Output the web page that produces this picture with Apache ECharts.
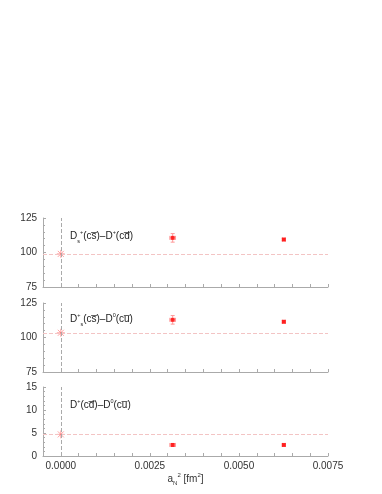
<!DOCTYPE html>
<html><head><meta charset="utf-8">
<script src="https://cdn.jsdelivr.net/npm/echarts@6/dist/echarts.min.js"></script>
<style>html,body{margin:0;padding:0;background:#fff}#c{width:382px;height:494px}</style>
</head><body><div id="c"></div>
<script>
// ---- data ----
const xVals = [0.00314, 0.00626];
const xErr = [0.00008, 0.00004];
const panel1Vals = [110.6, 109.4];
const panel1Err = [3.1, 0.8];
const panel2Vals = [112.8, 111.4];
const panel2Err = [3.1, 0.8];
const panel3Vals = [2.4, 2.4];
const panel3Err = [0.3, 0.2];
const extrapX = 0;
const extrapVals = [99.0, 103.4, 4.7];
const yMins = [75, 75, 0];
const yMaxs = [125, 125, 15];
const yIntervals = [25, 25, 5];
const xTickLabels = ['0.0000', '0.0025', '0.0050', '0.0075'];

const panelVals = [panel1Vals, panel2Vals, panel3Vals];
const panelErr = [panel1Err, panel2Err, panel3Err];

const font = 'Liberation Sans, Arial, sans-serif';
const axisColor = '#aaa';
const tops = [218, 303, 387];
const grids = tops.map(t => ({left: 43, width: 285, top: t, height: 69}));

const xAxes = tops.map((t, i) => ({
  type: 'value', gridIndex: i, min: -0.0005, max: 0.0075, interval: 0.0005,
  axisLine: {onZero: false, lineStyle: {color: axisColor}},
  axisTick: {inside: true, length: 3, lineStyle: {color: axisColor}},
  splitLine: {show: false},
  axisLabel: {
    show: i === 2, color: '#333', fontSize: 10, fontFamily: font, margin: 5,
    formatter: v => {
      const s = v.toFixed(4);
      return xTickLabels.indexOf(s) >= 0 ? s : '';
    }
  },
  name: i === 2 ? 'a{sub|N}{sup|2} [fm{sup|2}]' : '',
  nameLocation: 'middle', nameGap: 16,
  nameTextStyle: {
    color: '#333', fontSize: 10, fontFamily: font, lineHeight: 14,
    rich: {
      sub: {fontSize: 6, verticalAlign: 'bottom', fontFamily: font, color: '#333', lineHeight: 14},
      sup: {fontSize: 6, verticalAlign: 'top', fontFamily: font, color: '#333', lineHeight: 14}
    }
  }
}));

const yAxes = tops.map((t, i) => ({
  type: 'value', gridIndex: i, min: yMins[i], max: yMaxs[i], interval: yIntervals[i],
  axisLine: {show: true, onZero: false, lineStyle: {color: axisColor}},
  axisTick: {inside: true, length: 3, lineStyle: {color: axisColor}},
  minorTick: {show: true, splitNumber: 5, length: 2, lineStyle: {color: axisColor}},
  splitLine: {show: false},
  axisLabel: {color: '#333', fontSize: 10, fontFamily: font, margin: 6}
}));

const series = [];
for (let i = 0; i < 3; i++) {
  const pts = xVals.map((x, k) => [x, panelVals[i][k], xErr[k], panelErr[i][k]]);
  series.push({
    type: 'custom', xAxisIndex: i, yAxisIndex: i, silent: true, z: 2,
    data: pts,
    renderItem: (params, api) => {
      const x = api.value(0), y = api.value(1), ex = api.value(2), ey = api.value(3);
      const l = api.coord([x - ex, y]), r = api.coord([x + ex, y]);
      const b = api.coord([x, y - ey]), tp = api.coord([x, y + ey]);
      const st = {stroke: '#f99', lineWidth: 1};
      const cap = 2;
      return {type: 'group', children: [
        {type: 'line', shape: {x1: l[0], y1: l[1], x2: r[0], y2: r[1]}, style: st},
        {type: 'line', shape: {x1: b[0], y1: b[1], x2: tp[0], y2: tp[1]}, style: st},
        {type: 'line', shape: {x1: b[0] - cap, y1: b[1], x2: b[0] + cap, y2: b[1]}, style: st},
        {type: 'line', shape: {x1: tp[0] - cap, y1: tp[1], x2: tp[0] + cap, y2: tp[1]}, style: st},
        {type: 'line', shape: {x1: l[0], y1: l[1] - cap, x2: l[0], y2: l[1] + cap}, style: st},
        {type: 'line', shape: {x1: r[0], y1: r[1] - cap, x2: r[0], y2: r[1] + cap}, style: st}
      ]};
    }
  });
  series.push({
    type: 'scatter', xAxisIndex: i, yAxisIndex: i, symbol: 'rect', symbolSize: 4, z: 3,
    itemStyle: {color: '#f00'}, data: pts.map(p => [p[0], p[1]])
  });
  series.push({
    type: 'line', xAxisIndex: i, yAxisIndex: i, data: [], silent: true,
    markLine: {
      silent: true, symbol: 'none', label: {show: false}, animation: false,
      data: [
        {yAxis: extrapVals[i], lineStyle: {color: '#f3c4c4', type: 'dashed', width: 1}},
        {xAxis: extrapX, lineStyle: {color: '#aaa', type: 'dashed', width: 1}}
      ]
    }
  });
  series.push({
    type: 'custom', xAxisIndex: i, yAxisIndex: i, silent: true, z: 4,
    data: [[extrapX, extrapVals[i]]],
    renderItem: (params, api) => {
      const c = api.coord([api.value(0), api.value(1)]);
      const r = 4, d = 3;
      const st = {stroke: '#f77', lineWidth: 1, opacity: 0.7};
      return {type: 'group', children: [
        {type: 'line', shape: {x1: c[0] - r, y1: c[1], x2: c[0] + r, y2: c[1]}, style: st},
        {type: 'line', shape: {x1: c[0], y1: c[1] - r, x2: c[0], y2: c[1] + r}, style: st},
        {type: 'line', shape: {x1: c[0] - d, y1: c[1] - d, x2: c[0] + d, y2: c[1] + d}, style: st},
        {type: 'line', shape: {x1: c[0] - d, y1: c[1] + d, x2: c[0] + d, y2: c[1] - d}, style: st}
      ]};
    }
  });
}

const rich = {
  n: {fontSize: 10, fontFamily: font, color: '#222', lineHeight: 15},
  sub: {fontSize: 5.5, fontFamily: font, color: '#222', verticalAlign: 'bottom', lineHeight: 15},
  sup: {fontSize: 5.5, fontFamily: font, color: '#222', verticalAlign: 'top', lineHeight: 15}
};
const labels = [
  '{n|D}{sub|s}{sup|+}{n|(cs\u0305)\u2013D}{sup|+}{n|(cd\u0305)}',
  '{n|D}{sup|+}{sub|s}{n|(cs\u0305)\u2013D}{sup|0}{n|(cu\u0305)}',
  '{n|D}{sup|+}{n|(cd\u0305)\u2013D}{sup|0}{n|(cu\u0305)}'
];
const labelTops = [229, 312, 398];
const graphic = labels.map((t, i) => ({
  type: 'text', left: 70, top: labelTops[i], silent: true,
  style: {text: t, rich: rich, fill: '#222', font: '10px ' + font}
}));

const chart = echarts.init(document.getElementById('c'), null, {renderer: 'canvas'});
chart.setOption({
  animation: false, backgroundColor: '#fff',
  grid: grids, xAxis: xAxes, yAxis: yAxes, series: series, graphic: graphic
});
</script></body></html>
